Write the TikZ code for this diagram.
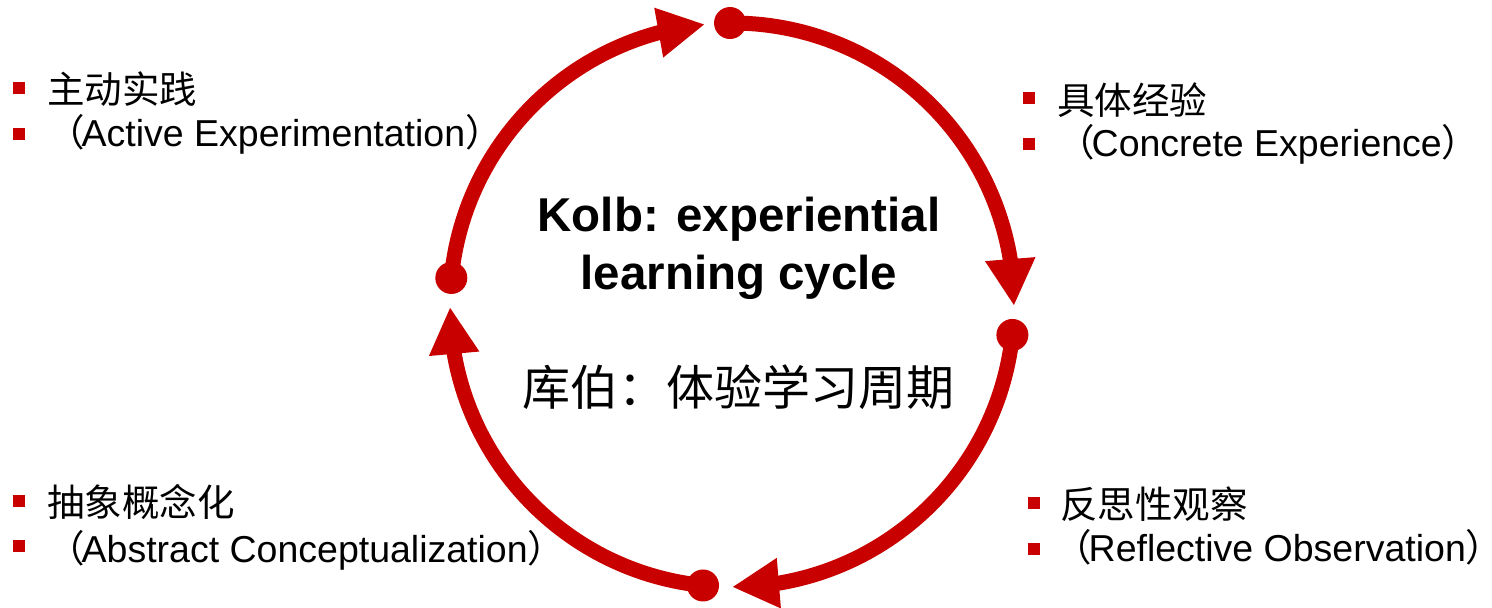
\documentclass[tikz,border=0pt]{standalone}
\usepackage{fontspec}
\setmainfont{Liberation Sans}
\newfontfamily\cjk{Noto Sans CJK SC}
\usetikzlibrary{arrows.meta,bending,calc}
\definecolor{kred}{HTML}{C80000}
\newcommand{\lp}{{\cjk （}\hspace{-3pt}}
\newcommand{\rp}{\makebox[0.45em][l]{\cjk ）}}
\begin{document}
\begin{tikzpicture}[x=1pt,y=1pt,
  ring/.style={draw=kred, line width=15pt, -{Triangle[length=47pt,width=47pt]}},
  dot/.style={circle, fill=kred, minimum size=32pt, inner sep=0pt},
  bul/.style={rectangle, fill=kred, minimum size=12pt, inner sep=0pt},
  itemtext/.style={anchor=base west, inner sep=0pt, font=\fontsize{37.5}{46}\selectfont},
  titletext/.style={anchor=base, inner sep=0pt, font=\fontsize{47.5}{58}\selectfont\bfseries},
  ]
\useasboundingbox (0,0) rectangle (1492,608);
\coordinate (c) at (732,303);
\coordinate (p1) at ($(c)+(90.4:282)$);
\coordinate (p2) at ($(c)+(-6.1:282)$);
\coordinate (p3) at ($(c)+(-95.9:282)$);
\coordinate (p4) at ($(c)+(174.5:282)$);
% arcs
\draw[ring] (p1) arc[start angle=90.4, end angle=-0.2, radius=282];
\draw[ring] (p2) arc[start angle=-6.1, end angle=-90, radius=282];
\draw[ring] (p3) arc[start angle=-95.9, end angle=-179.6, radius=282];
\draw[ring] (p4) arc[start angle=174.5, end angle=95.5, radius=282];
% dots
\node[dot] (d1) at (p1) {};
\node[dot] (d2) at (p2) {};
\node[dot] (d3) at (p3) {};
\node[dot] (d4) at (p4) {};
% centre title
\node[titletext] (t1) at (739,376) {Kolb: experiential};
\node[titletext] (t2) at (739,318) {learning cycle};
\node[anchor=base, inner sep=0pt, font=\fontsize{48}{58}\selectfont\cjk] (t3) at (738.5,202.3) {库伯：体验学习周期};
% top-left
\node[bul] (b1a) at (19,519.5) {};
\node[bul] (b1b) at (19,474) {};
\node[itemtext] (ae1) at (47,504) {\cjk 主动实践};
\node[itemtext] (ae2) at (47,461) {\lp Active Experimentation\rp};
% top-right
\node[bul] (b2a) at (1029,509.5) {};
\node[bul] (b2b) at (1029,464) {};
\node[itemtext] (ce1) at (1057,493.5) {\cjk 具体经验};
\node[itemtext] (ce2) at (1057,451) {\lp Concrete Experience\rp};
% bottom-left
\node[bul] (b3a) at (18.5,106.5) {};
\node[bul] (b3b) at (18.5,61.5) {};
\node[itemtext] (ac1) at (47,91.5) {\cjk 抽象概念化};
\node[itemtext] (ac2) at (47,45) {\lp Abstract Conceptualization\rp};
% bottom-right
\node[bul] (b4a) at (1034,105) {};
\node[bul] (b4b) at (1034,59) {};
\node[itemtext] (ro1) at (1060,89) {\cjk 反思性观察};
\node[itemtext] (ro2) at (1054,46) {\lp Reflective Observation\rp};
\end{tikzpicture}
\end{document}
